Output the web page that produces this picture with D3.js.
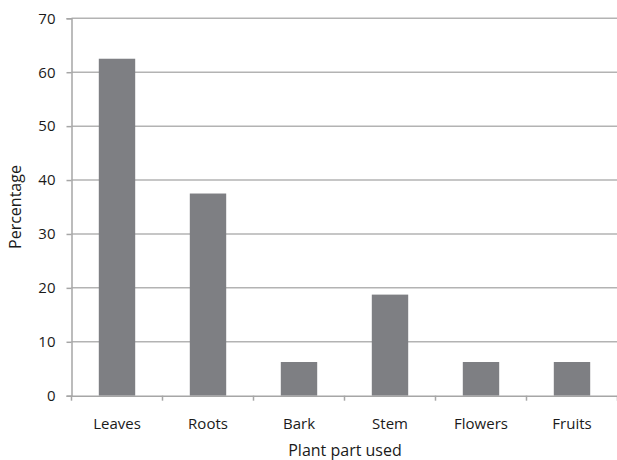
<!DOCTYPE html>
<html>
<head>
<meta charset="utf-8">
<script src="https://cdn.jsdelivr.net/npm/d3@7"></script>
<style>
body { margin: 0; background: #fff; }
text { font-family: "Open Sans", "Noto Sans", sans-serif; fill: #1a1a1a; }
</style>
</head>
<body>
<svg id="chart" width="617" height="460"></svg>
<script>
const categories = ["Leaves", "Roots", "Bark", "Stem", "Flowers", "Fruits"];
const values = [62.5, 37.5, 6.25, 18.75, 6.25, 6.25];
const yTicks = [0, 10, 20, 30, 40, 50, 60, 70];

const svg = d3.select("#chart");
const margin = { left: 71.5, right: 0, top: 18.3, bottom: 64.3 };
const W = 617, H = 460;
const x = d3.scaleBand().domain(categories).range([margin.left, margin.left + 91 * 6]).paddingInner(0.6).paddingOuter(0.3);
const y = d3.scaleLinear().domain([0, 70]).range([H - margin.bottom, margin.top]);

// gridlines
svg.append("g").selectAll("line").data(yTicks.filter(d => d > 0)).join("line")
  .attr("x1", margin.left).attr("x2", W)
  .attr("y1", d => y(d)).attr("y2", d => y(d))
  .attr("stroke", "#b3b3b3").attr("stroke-width", 1.5);

// bars
svg.append("g").selectAll("rect").data(values).join("rect")
  .attr("x", (d, i) => x(categories[i]))
  .attr("width", x.bandwidth())
  .attr("y", d => y(d))
  .attr("height", d => y(0) - y(d))
  .attr("fill", "#7e7f83");

// y axis
const yAxis = svg.append("g").attr("transform", `translate(${margin.left},0)`)
  .call(d3.axisLeft(y).tickValues(yTicks).tickSize(5).tickPadding(11).tickFormat(d3.format("d")));
yAxis.select(".domain").attr("stroke", "#a6a6a6").attr("stroke-width", 1.5);
yAxis.selectAll(".tick line").attr("stroke", "#a6a6a6").attr("stroke-width", 1.5);
yAxis.selectAll("text").style("font-size", "15px").attr("fill", "#1a1a1a");

// x axis
const xAxis = svg.append("g").attr("transform", `translate(0,${y(0)})`)
  .call(d3.axisBottom(x).tickSize(0).tickPadding(23));
xAxis.select(".domain").attr("stroke", "#a6a6a6").attr("stroke-width", 1.5);
xAxis.selectAll("text").style("font-size", "15px").attr("fill", "#1a1a1a");
// category boundary ticks
const step = x.step();
const bounds = d3.range(categories.length + 1).map(i => margin.left + i * step);
svg.append("g").selectAll("line").data(bounds).join("line")
  .attr("x1", d => d).attr("x2", d => d)
  .attr("y1", y(0)).attr("y2", y(0) + 5)
  .attr("stroke", "#a6a6a6").attr("stroke-width", 1.5);

// titles
svg.append("text").attr("x", 345).attr("y", 456).attr("text-anchor", "middle")
  .style("font-size", "16px").text("Plant part used");
svg.append("text").attr("transform", `translate(21,${(y(0) + y(70)) / 2}) rotate(-90)`)
  .attr("text-anchor", "middle").style("font-size", "16px").text("Percentage");
</script>
</body>
</html>
